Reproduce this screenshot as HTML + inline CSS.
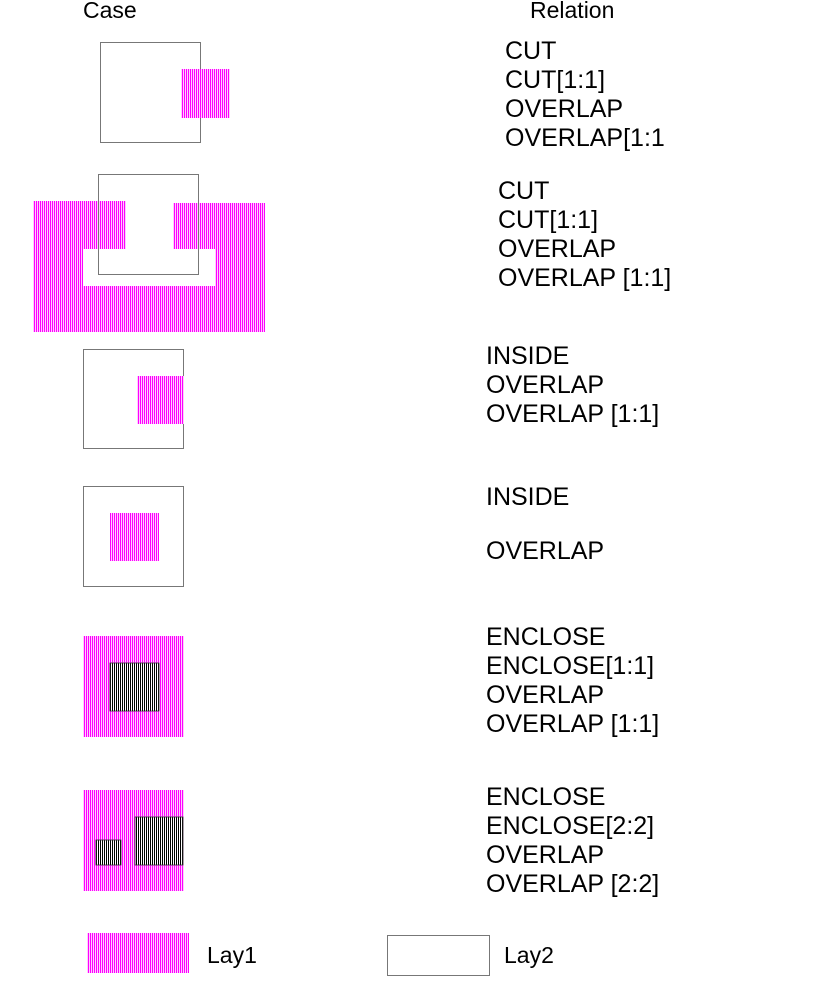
<!DOCTYPE html>
<html><head><style>html,body{margin:0;padding:0;background:#fff}</style></head><body>
<svg width="825" height="983" xmlns="http://www.w3.org/2000/svg" font-family="Liberation Sans, sans-serif" font-size="25" fill="#000">
<defs>
<pattern id="m" width="2" height="4" patternUnits="userSpaceOnUse"><rect width="2" height="4" fill="#fff"/><rect width="1.2" height="4" fill="#ff00ff"/></pattern>
<pattern id="k" width="2" height="4" patternUnits="userSpaceOnUse"><rect width="2" height="4" fill="#fff"/><rect width="1" height="4" fill="#000"/></pattern>
</defs>
<text x="83" y="18" font-size="23">Case</text><text x="530" y="18" font-size="23">Relation</text>
<!-- case1 -->
<rect x="100.5" y="42.5" width="100" height="100" fill="none" stroke="#777"/>
<rect x="181" y="69" width="49" height="49" fill="url(#m)"/>
<g><text x="505" y="59">CUT</text><text x="505" y="88">CUT[1:1]</text><text x="505" y="117">OVERLAP</text><text x="505" y="146">OVERLAP[1:1</text></g>
<!-- case2 -->
<polygon points="33,201 126,201 126,249 83,249 83,286 215,286 215,249 173,249 173,203 265,203 265,332 33,332" fill="url(#m)"/>
<rect x="98.5" y="174.5" width="100" height="100" fill="none" stroke="#777"/>
<g><text x="498" y="199">CUT</text><text x="498" y="228">CUT[1:1]</text><text x="498" y="257">OVERLAP</text><text x="498" y="286">OVERLAP [1:1]</text></g>
<!-- case3 -->
<rect x="83.5" y="349.5" width="100" height="99" fill="none" stroke="#777"/>
<rect x="137" y="376" width="47" height="48" fill="url(#m)"/>
<g><text x="486" y="364">INSIDE</text><text x="486" y="393">OVERLAP</text><text x="486" y="422">OVERLAP [1:1]</text></g>
<!-- case4 -->
<rect x="83.5" y="486.5" width="100" height="100" fill="none" stroke="#777"/>
<rect x="110" y="513" width="49" height="48" fill="url(#m)"/>
<g><text x="486" y="505">INSIDE</text><text x="486" y="559">OVERLAP</text></g>
<!-- case5 -->
<rect x="83" y="636" width="101" height="101" fill="url(#m)"/>
<rect x="110" y="663" width="49" height="48" fill="url(#k)" stroke="#333" stroke-width="0.8"/>
<g><text x="486" y="645">ENCLOSE</text><text x="486" y="674">ENCLOSE[1:1]</text><text x="486" y="703">OVERLAP</text><text x="486" y="732">OVERLAP [1:1]</text></g>
<!-- case6 -->
<rect x="83" y="790" width="101" height="101" fill="url(#m)"/>
<rect x="96" y="840" width="25" height="25" fill="url(#k)" stroke="#333" stroke-width="0.8"/>
<rect x="135" y="817" width="48" height="48" fill="url(#k)" stroke="#333" stroke-width="0.8"/>
<g><text x="486" y="805">ENCLOSE</text><text x="486" y="834">ENCLOSE[2:2]</text><text x="486" y="863">OVERLAP</text><text x="486" y="892">OVERLAP [2:2]</text></g>
<!-- legend -->
<rect x="87" y="933" width="102" height="40" fill="url(#m)"/>
<text x="207" y="963" font-size="23">Lay1</text>
<rect x="387.5" y="935.5" width="102" height="40" fill="none" stroke="#777"/>
<text x="504" y="963" font-size="23">Lay2</text>
</svg>
</body></html>
